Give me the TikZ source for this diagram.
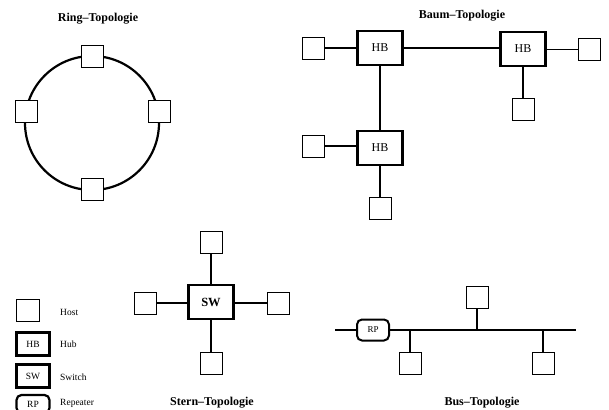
\documentclass[tikz,border=0pt]{standalone}
\usepackage{fontspec}
\setmainfont{Liberation Serif}
\usepackage{tikz}
\usetikzlibrary{positioning, calc}

\begin{document}
\begin{tikzpicture}[
  x=1pt, y=-1pt,
  every node/.style={font=\fontsize{12}{13}\selectfont},
  host/.style={draw, fill=white, line width=0.8pt, minimum width=22pt, minimum height=22pt, inner sep=0pt},
  hub/.style={draw, fill=white, line width=2.4pt, minimum width=45pt, minimum height=34pt, inner sep=0pt},
  switchbox/.style={hub, font=\fontsize{12.5}{13}\selectfont\bfseries},
  repeater/.style={draw, fill=white, line width=2pt, rounded corners=5pt, minimum width=32pt, minimum height=21pt,
                   inner sep=0pt, font=\fontsize{9}{10}\selectfont},
  legbox/.style={draw, line width=2.2pt, minimum width=33pt, minimum height=23pt, inner sep=0pt,
                 font=\fontsize{9.5}{10}\selectfont},
  legtext/.style={anchor=west, inner sep=0pt, font=\fontsize{9.5}{10}\selectfont},
  link/.style={line width=1.9pt},
  topotitle/.style={font=\fontsize{12}{13}\selectfont\bfseries},
]
\useasboundingbox (0,0) rectangle (609,409);
\clip (0,0) rectangle (609,409);

% Ring
\node[topotitle] (ringtitle) at (98,19) {Ring--Topologie};
\draw[line width=2.2pt] (92,123) circle (67);
\node[host] (rtop) at (92,56) {};
\node[host] (rleft) at (26,111) {};
\node[host] (rright) at (159,111) {};
\node[host] (rbot) at (92,189) {};

% Baum
\node[topotitle] (baumtitle) at (462,16) {Baum--Topologie};
\node[hub] (hb1) at (380,48) {HB};
\node[hub] (hb2) at (523,49) {\raisebox{-2pt}{HB}};
\node[hub] (hb3) at (380,148) {HB};
\node[host] (bh1) at (313,48) {};
\node[host] (bh2) at (589,49.5) {};
\node[host] (bh3) at (523,109) {};
\node[host] (bh4) at (313,146) {};
\node[host] (bh5) at (380,208) {};
\draw[link] (hb1.east) -- (hb1.east -| hb2.west);
\draw[link] (bh1.east) -- (bh1.east -| hb1.west);
\draw[link] (bh2.west) -- (bh2.west -| hb2.east);
\draw[link] (hb2.south) -- (bh3.north);
\draw[link] (hb1.south) -- (hb3.north);
\draw[link] (bh4.east) -- (bh4.east -| hb3.west);
\draw[link] (hb3.south) -- (bh5.north);

% Stern
\node[topotitle] (sterntitle) at (212,403) {Stern--Topologie};
\node[switchbox] (sw) at (211,302) {SW};
\node[host] (sh1) at (211,242) {};
\node[host] (sh2) at (145,303) {};
\node[host] (sh3) at (278,303) {};
\node[host] (sh4) at (211,363) {};
\draw[link] (sh1.south) -- (sw.north);
\draw[link] (sh2.east) -- (sh2.east -| sw.west);
\draw[link] (sh3.west) -- (sh3.west -| sw.east);
\draw[link] (sw.south) -- (sh4.north);

% Bus
\node[topotitle] (bustitle) at (482,403) {Bus--Topologie};
\coordinate (busl) at (335,330);
\coordinate (busr) at (576,330);
\node[repeater] (rp) at (373,330) {RP};
\node[host] (bus1) at (410,363) {};
\node[host] (bus2) at (477,297) {};
\node[host] (bus3) at (543,363) {};
\draw[link, line width=2.2pt] (busl) -- (rp.west);
\draw[link, line width=2.2pt] (rp.east) -- (busr);
\draw[link] (bus1.north) -- (bus1.north |- busr);
\draw[link] (bus2.south) -- (bus2.south |- busr);
\draw[link] (bus3.north) -- (bus3.north |- busr);

% Legende
\node[host, minimum width=23pt] (lhost) at (28,310) {};
\node[legbox] (lhub) at (33,344) {HB};
\node[legbox] (lsw) at (33,376) {SW};
\node[legbox, rounded corners=5pt, minimum height=18pt] (lrp) at (33,404) {RP};
\node[legtext] (thost) at (60,312) {Host};
\node[legtext] (thub) at (60,344) {Hub};
\node[legtext] (tsw) at (60,377) {Switch};
\node[legtext] (trp) at (60,403) {Repeater};
\end{tikzpicture}
\end{document}
